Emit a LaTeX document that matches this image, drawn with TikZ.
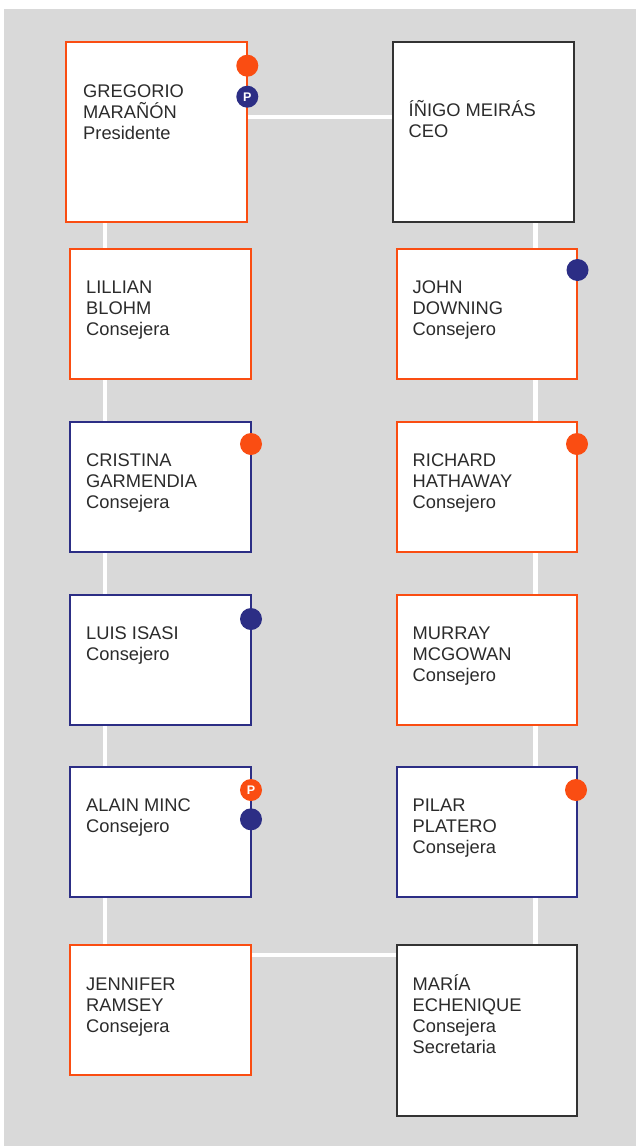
\documentclass[tikz,border=0pt]{standalone}
\usepackage{fontspec}
\setmainfont{Liberation Sans}
\usetikzlibrary{backgrounds}
\definecolor{orng}{HTML}{FA4D12}
\definecolor{navy}{HTML}{2C2E85}
\definecolor{bgrey}{HTML}{D9D9D9}
\definecolor{txt}{HTML}{2B2B2B}
\definecolor{dkb}{HTML}{333333}
\begin{document}
\begin{tikzpicture}[x=1pt,y=-1pt,
 box/.style={draw, line width=2pt, fill=white, anchor=north west, inner sep=0pt, minimum width=180.5pt, minimum height=130pt},
 obox/.style={box, draw=orng}, nbox/.style={box, draw=navy}, kbox/.style={box, draw=dkb},
 lbl/.style={anchor=base west, align=left, inner sep=0pt, font=\fontsize{18.3}{21}\selectfont, text=txt},
 dot/.style={circle, inner sep=0pt, minimum size=22pt, text=white, font=\fontsize{12.5}{12.5}\selectfont\bfseries},
 odot/.style={dot, fill=orng}, ndot/.style={dot, fill=navy},
 link/.style={draw=white, line width=4.5pt}]
\useasboundingbox (0,0) rectangle (636,1146);
\begin{scope}[on background layer]
\fill[bgrey] (4,9) rectangle (636,1146);
\end{scope}
% boxes
\node[obox, minimum width=181pt, minimum height=180pt] (greg) at (65,41) {};
\node[kbox, minimum width=181pt, minimum height=180pt] (inigo) at (391.5,41) {};
\node[obox] (lill) at (69,248) {};
\node[obox] (john) at (395.5,248) {};
\node[nbox] (cris) at (69,421) {};
\node[obox] (rich) at (395.5,421) {};
\node[nbox] (luis) at (69,594) {};
\node[obox] (murr) at (395.5,594) {};
\node[nbox] (alai) at (69,766.3) {};
\node[nbox] (pila) at (395.5,766.3) {};
\node[obox] (jenn) at (69,944.3) {};
\node[kbox, minimum height=170.4pt] (mari) at (395.5,944.3) {};
% texts (base anchor = last line baseline)
\node[lbl] (tgreg) at (83,139) {GREGORIO\\MARAÑÓN\\Presidente};
\node[lbl] (tinigo) at (408.5,137) {ÍÑIGO MEIRÁS\\CEO};
\node[lbl] (tlill) at (86,335.5) {LILLIAN\\BLOHM\\Consejera};
\node[lbl] (tjohn) at (412.5,335.5) {JOHN\\DOWNING\\Consejero};
\node[lbl] (tcris) at (86,508.5) {CRISTINA\\GARMENDIA\\Consejera};
\node[lbl] (trich) at (412.5,508.5) {RICHARD\\HATHAWAY\\Consejero};
\node[lbl] (tluis) at (86,660.5) {LUIS ISASI\\Consejero};
\node[lbl] (tmurr) at (412.5,681.5) {MURRAY\\MCGOWAN\\Consejero};
\node[lbl] (talai) at (86,832.7) {ALAIN MINC\\Consejero};
\node[lbl] (tpila) at (412.5,853.7) {PILAR\\PLATERO\\Consejera};
\node[lbl] (tjenn) at (86,1032) {JENNIFER\\RAMSEY\\Consejera};
\node[lbl] (tmari) at (412.5,1053) {MARÍA\\ECHENIQUE\\Consejera\\Secretaria};
% dots
\node[odot] (d1) at (247.3,65.7) {};
\node[ndot] (d2) at (247.3,96.7) {P};
\node[ndot] (d3) at (577.5,270) {};
\node[odot] (d4) at (251,444) {};
\node[odot] (d5) at (577,444) {};
\node[ndot] (d6) at (251,619) {};
\node[odot] (d7) at (251,790) {P};
\node[ndot] (d8) at (251,819.3) {};
\node[odot] (d9) at (576,790) {};
% connectors
\coordinate (L) at (105,0);
\coordinate (R) at (535.5,0);
\coordinate (T) at (0,117);
\coordinate (B) at (0,955);
\begin{scope}[on background layer]
\draw[link] (greg.south -| L) -- (lill.north -| L);
\draw[link] (lill.south -| L) -- (cris.north -| L);
\draw[link] (cris.south -| L) -- (luis.north -| L);
\draw[link] (luis.south -| L) -- (alai.north -| L);
\draw[link] (alai.south -| L) -- (jenn.north -| L);
\draw[link] (inigo.south -| R) -- (john.north -| R);
\draw[link] (john.south -| R) -- (rich.north -| R);
\draw[link] (rich.south -| R) -- (murr.north -| R);
\draw[link] (murr.south -| R) -- (pila.north -| R);
\draw[link] (pila.south -| R) -- (mari.north -| R);
\draw[link] (greg.east |- T) -- (inigo.west |- T);
\draw[link] (jenn.east |- B) -- (mari.west |- B);
\end{scope}
\end{tikzpicture}
\end{document}
